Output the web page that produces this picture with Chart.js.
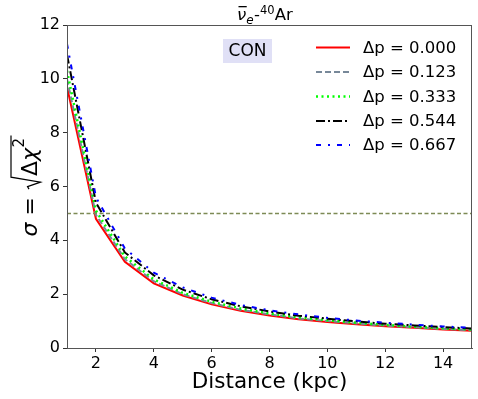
<!DOCTYPE html>
<html>
<head>
<meta charset="utf-8">
<script src="https://cdn.jsdelivr.net/npm/chart.js@4"></script>
<style>
html,body{margin:0;padding:0;background:#fff;}
#wrap{width:478px;height:399px;}
</style>
</head>
<body>
<div id="wrap"><canvas id="c" width="478" height="399"></canvas></div>
<script>
const distances = [1,2,3,4,5,6,7,8,9,10,11,12,13,14,15];
const sigma_p000 = [9.7, 4.8, 3.2, 2.4, 1.95, 1.62, 1.38, 1.21, 1.07, 0.97, 0.88, 0.81, 0.75, 0.69, 0.64];
const sigma_p123 = [10.0, 4.95, 3.3, 2.48, 2.0, 1.67, 1.42, 1.25, 1.1, 1.0, 0.91, 0.83, 0.77, 0.71, 0.66];
const sigma_p333 = [10.3, 5.1, 3.4, 2.55, 2.05, 1.72, 1.47, 1.28, 1.14, 1.03, 0.94, 0.86, 0.79, 0.73, 0.69];
const sigma_p544 = [10.9, 5.4, 3.55, 2.7, 2.17, 1.81, 1.55, 1.36, 1.2, 1.09, 0.99, 0.9, 0.84, 0.78, 0.72];
const sigma_p667 = [11.3, 5.6, 3.7, 2.8, 2.25, 1.87, 1.6, 1.4, 1.25, 1.12, 1.02, 0.94, 0.87, 0.8, 0.75];
const thresholdLine = [5, 5];
const thresholdX = [1, 15];
const legendLabels = ['\u0394p = 0.000','\u0394p = 0.123','\u0394p = 0.333','\u0394p = 0.544','\u0394p = 0.667'];
const xTicks = [2,4,6,8,10,12,14];
const yTicks = [0,2,4,6,8,10,12];
const xTitle = 'Distance (kpc)';
const boxLabel = 'CON';

const FONT = "'DejaVu Sans', sans-serif";
function pts(ys){ return distances.map((d,i)=>({x:d,y:ys[i]})); }

const datasets = [
  {label:legendLabels[0], data:pts(sigma_p000), borderColor:'#ff0000', borderWidth:2, borderDash:[], order:5},
  {label:legendLabels[1], data:pts(sigma_p123), borderColor:'#778899', borderWidth:2, borderDash:[6,3], order:4},
  {label:legendLabels[2], data:pts(sigma_p333), borderColor:'#00ff00', borderWidth:2.5, borderDash:[2,3.5], order:3},
  {label:legendLabels[3], data:pts(sigma_p544), borderColor:'#000000', borderWidth:2, borderDash:[9,3,2,3], order:2},
  {label:legendLabels[4], data:pts(sigma_p667), borderColor:'#0000ff', borderWidth:2, borderDash:[5,7,2,7], order:1},
  {label:'threshold', data:thresholdX.map((x,i)=>({x:x,y:thresholdLine[i]})), borderColor:'#7d8a55', borderWidth:1.5, borderDash:[4,2.5], order:0}
];
datasets.forEach(d=>{d.pointRadius=0; d.fill=false; d.tension=0; d.borderCapStyle='butt';});

const extras = {
  id:'extras',
  afterDraw(chart){
    const ctx = chart.ctx, a = chart.chartArea;
    ctx.save();
    // frame
    ctx.strokeStyle = '#555'; ctx.lineWidth = 1;
    ctx.strokeRect(a.left+0.5, a.top+0.5, a.right-a.left-1, a.bottom-a.top);
    // legend
    const rows = [47.5, 72, 96.5, 121, 145];
    for(let i=0;i<5;i++){
      const ds = chart.data.datasets[i];
      ctx.beginPath();
      ctx.strokeStyle = ds.borderColor; ctx.lineWidth = ds.borderWidth;
      ctx.setLineDash(ds.borderDash);
      ctx.moveTo(316, rows[i]); ctx.lineTo(350, rows[i]); ctx.stroke();
      ctx.setLineDash([]);
      ctx.fillStyle = '#000'; ctx.font = '16.5px '+FONT;
      ctx.textBaseline = 'middle'; ctx.textAlign = 'left';
      ctx.fillText(ds.label, 363, rows[i]+1);
    }
    // CON box
    ctx.fillStyle = '#e0e0f6';
    ctx.fillRect(223, 39, 49, 24);
    ctx.fillStyle = '#000'; ctx.font = '17px '+FONT;
    ctx.textAlign = 'center'; ctx.textBaseline = 'middle';
    ctx.fillText(boxLabel, 247.5, 52);
    // title: nu-bar_e - 40Ar
    ctx.textAlign = 'left'; ctx.textBaseline = 'alphabetic';
    let x = 237, base = 20;
    ctx.font = 'italic 16.5px '+FONT;
    const wNu = ctx.measureText('\u03bd').width;
    ctx.fillText('\u03bd', x, base);
    ctx.fillRect(x+1.5, base-14, wNu-1, 1.3);
    x += wNu;
    ctx.font = 'italic 12px '+FONT;
    ctx.fillText('e', x, base+3.5); x += ctx.measureText('e').width + 0.5;
    ctx.font = '16.5px '+FONT;
    ctx.fillText('-', x, base); x += ctx.measureText('-').width;
    ctx.font = '11.5px '+FONT;
    ctx.fillText('40', x, base-6.5); x += ctx.measureText('40').width;
    ctx.font = '16.5px '+FONT;
    ctx.fillText('Ar', x, base);
    // x title
    ctx.font = '21.5px '+FONT; ctx.textAlign = 'center'; ctx.textBaseline = 'alphabetic';
    ctx.fillText(xTitle, (a.left+a.right)/2, 388);
    // y title
    ctx.translate(37, (a.top+a.bottom)/2);
    ctx.rotate(-Math.PI/2);
    ctx.textAlign = 'left';
    ctx.font = 'italic 22px '+FONT;
    const wSig = ctx.measureText('\u03c3').width;
    ctx.font = '22px '+FONT;
    const wEq = ctx.measureText(' = ').width;
    const wD = ctx.measureText('\u0394').width;
    ctx.font = 'italic 22px '+FONT;
    const wChi = ctx.measureText('\u03c7').width;
    ctx.font = '15px '+FONT;
    const w2 = ctx.measureText('2').width;
    const wRad = 14;
    const total = wSig + wEq + wRad + wD + wChi + w2 + 2;
    let p = -total/2;
    ctx.font = 'italic 22px '+FONT; ctx.fillText('\u03c3', p, 0); p += wSig;
    ctx.font = '22px '+FONT; ctx.fillText(' = ', p, 0); p += wEq;
    // radical
    const r0 = p;
    p += wRad;
    const endX = p + wD + wChi + w2 + 3;
    ctx.beginPath(); ctx.lineWidth = 1.2; ctx.strokeStyle = '#000';
    ctx.moveTo(r0+1, -8); ctx.lineTo(r0+3.5, -9.5); ctx.lineTo(r0+8, 3.5); ctx.lineTo(r0+13, -26); ctx.lineTo(endX, -26);
    ctx.stroke();
    ctx.font = '22px '+FONT; ctx.fillText('\u0394', p, 0); p += wD;
    ctx.font = 'italic 22px '+FONT; ctx.fillText('\u03c7', p, 0); p += wChi;
    ctx.font = '15px '+FONT; ctx.fillText('2', p+0.5, -13);
    ctx.restore();
  }
};

new Chart(document.getElementById('c'), {
  type:'line',
  data:{datasets:datasets},
  options:{
    responsive:false, animation:false, devicePixelRatio:1,
    layout:{padding:{top:25, right:6, left:0, bottom:0}},
    plugins:{legend:{display:false}, tooltip:{enabled:false}, title:{display:false}},
    scales:{
      x:{type:'linear', min:1, max:15,
        afterBuildTicks(ax){ ax.ticks = xTicks.map(v=>({value:v})); },
        afterFit(ax){ ax.height = 51; },
        ticks:{color:'#000', font:{family:FONT, size:16}, padding:2, maxRotation:0, autoSkip:false, callback:v=>String(v)},
        grid:{drawOnChartArea:false, drawTicks:true, tickLength:4, color:'#333'},
        border:{display:true, color:'#555'}
      },
      y:{type:'linear', min:0, max:12,
        afterBuildTicks(ax){ ax.ticks = yTicks.map(v=>({value:v})); },
        afterFit(ax){ ax.width = 67; },
        ticks:{color:'#000', font:{family:FONT, size:16}, padding:3, autoSkip:false, callback:v=>String(v)},
        grid:{drawOnChartArea:false, drawTicks:true, tickLength:4, color:'#333'},
        border:{display:true, color:'#555'}
      }
    }
  },
  plugins:[extras]
});
</script>
</body>
</html>
